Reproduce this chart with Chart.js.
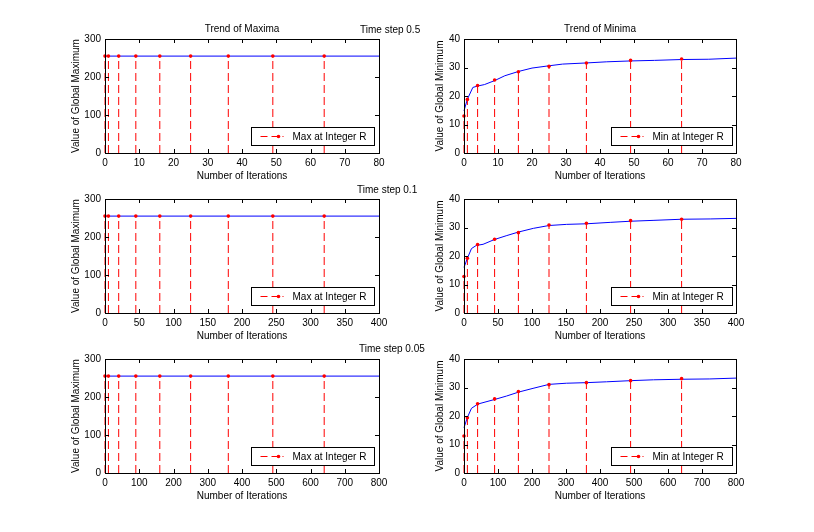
<!DOCTYPE html>
<html>
<head>
<meta charset="utf-8">
<script src="https://cdn.jsdelivr.net/npm/chart.js@4.4.0/dist/chart.umd.min.js"></script>
<style>
    html, body { margin: 0; padding: 0; background: #fff; }
    body { width: 814px; height: 532px; position: relative; overflow: hidden; font-family: "Liberation Sans", Arial, sans-serif; }
    canvas { position: absolute; }
    .note { position: absolute; font-size: 10px; line-height: 12px; color: #000; white-space: nowrap; }
</style>
</head>
<body>
<canvas id="maxChart05"></canvas>
<canvas id="minChart05"></canvas>
<canvas id="maxChart01"></canvas>
<canvas id="minChart01"></canvas>
<canvas id="maxChart005"></canvas>
<canvas id="minChart005"></canvas>
<div class="note" style="left:360px; top:24px;">Time step 0.5</div>
<div class="note" style="left:357px; top:184px;">Time step 0.1</div>
<div class="note" style="left:359px; top:343px;">Time step 0.05</div>
<script>
// Time step 0.5
const stemX05 = [0, 1, 4, 9, 16, 25, 36, 49, 64];
const maxCurveX05 = [0, 80];
const maxCurveY05 = [255, 255];
const maxStemY05 = [255, 255, 255, 255, 255, 255, 255, 255, 255];
const minCurveX05 = [0, 1, 2.6, 4, 6, 9, 12, 16, 20, 25, 29, 36, 42, 49, 56, 64, 72, 80];
const minCurveY05 = [14.8, 18.9, 23, 23.5, 24, 25.4, 27.1, 28.6, 29.8, 30.6, 31.2, 31.6, 32, 32.3, 32.5, 32.8, 32.9, 33.3];
const minStemY05 = [13, 18.8, 23.7, 25.6, 28.5, 30.4, 31.6, 32.5, 33];

// Time step 0.1
const stemX01 = [0, 5, 20, 45, 80, 125, 180, 245, 320];
const maxCurveX01 = [0, 400];
const maxCurveY01 = [255, 255];
const maxStemY01 = [255, 255, 255, 255, 255, 255, 255, 255, 255];
const minCurveX01 = [0, 5, 11, 18, 28, 45, 62, 80, 102, 125, 151, 180, 215, 245, 278, 320, 362, 400];
const minCurveY01 = [16, 19.2, 22.6, 23.7, 24.1, 25.8, 27.1, 28.4, 29.7, 30.7, 31.1, 31.3, 31.8, 32.2, 32.5, 32.9, 33.0, 33.2];
const minStemY01 = [12.8, 19.2, 24.0, 25.9, 28.2, 30.9, 31.5, 32.4, 32.9];

// Time step 0.05
const stemX005 = [0, 10, 40, 90, 160, 250, 360, 490, 640];
const maxCurveX005 = [0, 800];
const maxCurveY005 = [255, 255];
const maxStemY005 = [255, 255, 255, 255, 255, 255, 255, 255, 255];
const minCurveX005 = [0, 10, 22, 41, 90, 125, 161, 203, 250, 301, 360, 419, 490, 557, 642, 723, 800];
const minCurveY005 = [15.9, 19.5, 22.7, 24.2, 25.8, 27.0, 28.4, 29.7, 31.1, 31.5, 31.7, 32.0, 32.4, 32.7, 32.9, 33.0, 33.3];
const minStemY005 = [13.0, 19.4, 24.3, 26.0, 28.6, 31.0, 31.7, 32.4, 33.1];

const maxTicksY = [0, 300, 100];
const minTicksY = [0, 40, 10];

Chart.defaults.font.family = '"Liberation Sans", Arial, sans-serif';
Chart.defaults.font.size = 10;
Chart.defaults.color = '#000';
Chart.defaults.animation = false;

const RED = '#ff0000';
const BLUE = '#0000ff';
const FONT = { family: '"Liberation Sans", Arial, sans-serif', size: 10 };

function pairs(xs, ys) {
    return xs.map((x, i) => ({ x: x, y: ys[i] }));
}

// each stem is base point, top point, gap
function stemPoints(xs, ys) {
    const pts = [];
    xs.forEach((x, i) => {
        pts.push({ x: x, y: 0 }, { x: x, y: ys[i] }, { x: x, y: null });
    });
    return pts;
}

// matlab style box, inward ticks, title and legend
const matlabAxes = {
    id: 'matlabAxes',
    afterDatasetsDraw(chart, args, opts) {
        const ctx = chart.ctx;
        const a = chart.chartArea;
        const xs = chart.scales.x, ys = chart.scales.y;
        ctx.save();
        ctx.strokeStyle = '#000';
        ctx.lineWidth = 1;
        ctx.setLineDash([]);
        ctx.beginPath();
        xs.ticks.forEach(t => {
            const px = Math.round(xs.getPixelForValue(t.value)) + 0.5;
            ctx.moveTo(px, a.bottom); ctx.lineTo(px, a.bottom - 4);
            ctx.moveTo(px, a.top); ctx.lineTo(px, a.top + 4);
        });
        ys.ticks.forEach(t => {
            const py = Math.round(ys.getPixelForValue(t.value)) + 0.5;
            ctx.moveTo(a.left, py); ctx.lineTo(a.left + 4, py);
            ctx.moveTo(a.right, py); ctx.lineTo(a.right - 4, py);
        });
        ctx.stroke();
        ctx.strokeRect(Math.round(a.left) + 0.5, Math.round(a.top) + 0.5, Math.round(a.width), Math.round(a.height));

        ctx.font = '10px "Liberation Sans", Arial, sans-serif';
        ctx.fillStyle = '#000';
        if (opts.title) {
            ctx.textAlign = 'center';
            ctx.textBaseline = 'middle';
            ctx.fillText(opts.title, (a.left + a.right) / 2, a.top - 10);
        }

        // legend
        const lw = opts.legendW, lh = 18;
        const bx = Math.round(a.right - opts.legendRight - lw) + 0.5;
        const by = Math.round(a.bottom - 8 - lh) + 0.5;
        ctx.fillStyle = '#fff';
        ctx.fillRect(bx, by, lw, lh);
        ctx.strokeRect(bx, by, lw, lh);
        const my = by + lh / 2;
        ctx.strokeStyle = RED;
        ctx.setLineDash([7, 4]);
        ctx.beginPath();
        ctx.moveTo(bx + 9, my); ctx.lineTo(bx + 32, my);
        ctx.stroke();
        ctx.setLineDash([]);
        ctx.fillStyle = RED;
        ctx.beginPath();
        ctx.arc(bx + 27, my, 1.8, 0, Math.PI * 2);
        ctx.fill();
        ctx.fillStyle = '#000';
        ctx.textAlign = 'left';
        ctx.textBaseline = 'middle';
        ctx.fillText(opts.legendText, bx + 41, my + 0.5);
        ctx.restore();
    }
};

function makePanel(id, box, cfg) {
    const cv = document.getElementById(id);
    cv.width = box.w + 60;
    cv.height = box.h + 70;
    cv.style.left = (box.left - 40) + 'px';
    cv.style.top = (box.top - 30) + 'px';
    return new Chart(cv, {
        type: 'scatter',
        data: {
            datasets: [
                {
                    data: stemPoints(cfg.stemX, cfg.stemY),
                    showLine: true,
                    borderColor: RED,
                    borderWidth: 1,
                    borderDash: [8, 4],
                    pointRadius: c => (c.dataIndex % 3 === 1 ? 1.8 : 0),
                    pointBackgroundColor: RED,
                    pointBorderWidth: 0,
                    clip: false,
                    order: 0
                },
                {
                    data: pairs(cfg.curveX, cfg.curveY),
                    showLine: true,
                    borderColor: BLUE,
                    borderWidth: 1,
                    pointRadius: 0,
                    tension: 0,
                    clip: false,
                    order: 1
                }
            ]
        },
        options: {
            responsive: false,
            animation: false,
            layout: { padding: { top: 30, right: 20, left: 0, bottom: 0 } },
            plugins: {
                legend: { display: false },
                tooltip: { enabled: false },
                matlabAxes: { title: cfg.title, legendText: cfg.legendText, legendW: cfg.legendW, legendRight: cfg.legendRight }
            },
            scales: {
                x: {
                    type: 'linear',
                    min: 0, max: cfg.xMax,
                    ticks: { stepSize: cfg.xStep, font: FONT, color: '#000', padding: 4, maxRotation: 0, autoSkip: false },
                    grid: { display: false, drawTicks: false },
                    border: { display: false },
                    title: { display: true, text: 'Number of Iterations', font: FONT, color: '#000', padding: { top: 0, bottom: 11 } },
                    afterFit: s => { s.height = 40; }
                },
                y: {
                    type: 'linear',
                    min: cfg.yTicks[0], max: cfg.yTicks[1],
                    ticks: { stepSize: cfg.yTicks[2], font: FONT, color: '#000', padding: 4 },
                    grid: { display: false, drawTicks: false },
                    border: { display: false },
                    title: { display: true, text: cfg.yTitle, font: FONT, color: '#000', padding: { top: cfg.yTitlePad, bottom: 0 } },
                    afterFit: s => { s.width = 40; }
                }
            }
        },
        plugins: [matlabAxes]
    });
}

const leftCol = { left: 105, w: 274 };
const rightCol = { left: 464, w: 272 };
const rows = [39, 199, 359];
const plotH = 114;

const maxCommon = { yTicks: maxTicksY, yTitle: 'Value of Global Maximum', yTitlePad: 5, legendText: 'Max at Integer R', legendW: 123, legendRight: 5 };
const minCommon = { yTicks: minTicksY, yTitle: 'Value of Global Minimum', yTitlePad: 10, legendText: 'Min at Integer R', legendW: 121, legendRight: 4 };

makePanel('maxChart05', { left: leftCol.left, top: rows[0], w: leftCol.w, h: plotH },
    Object.assign({}, maxCommon, { stemX: stemX05, stemY: maxStemY05, curveX: maxCurveX05, curveY: maxCurveY05, xMax: 80, xStep: 10, title: 'Trend of Maxima' }));
makePanel('minChart05', { left: rightCol.left, top: rows[0], w: rightCol.w, h: plotH },
    Object.assign({}, minCommon, { stemX: stemX05, stemY: minStemY05, curveX: minCurveX05, curveY: minCurveY05, xMax: 80, xStep: 10, title: 'Trend of Minima' }));
makePanel('maxChart01', { left: leftCol.left, top: rows[1], w: leftCol.w, h: plotH },
    Object.assign({}, maxCommon, { stemX: stemX01, stemY: maxStemY01, curveX: maxCurveX01, curveY: maxCurveY01, xMax: 400, xStep: 50 }));
makePanel('minChart01', { left: rightCol.left, top: rows[1], w: rightCol.w, h: plotH },
    Object.assign({}, minCommon, { stemX: stemX01, stemY: minStemY01, curveX: minCurveX01, curveY: minCurveY01, xMax: 400, xStep: 50 }));
makePanel('maxChart005', { left: leftCol.left, top: rows[2], w: leftCol.w, h: plotH },
    Object.assign({}, maxCommon, { stemX: stemX005, stemY: maxStemY005, curveX: maxCurveX005, curveY: maxCurveY005, xMax: 800, xStep: 100 }));
makePanel('minChart005', { left: rightCol.left, top: rows[2], w: rightCol.w, h: plotH },
    Object.assign({}, minCommon, { stemX: stemX005, stemY: minStemY005, curveX: minCurveX005, curveY: minCurveY005, xMax: 800, xStep: 100 }));
</script>
</body>
</html>
